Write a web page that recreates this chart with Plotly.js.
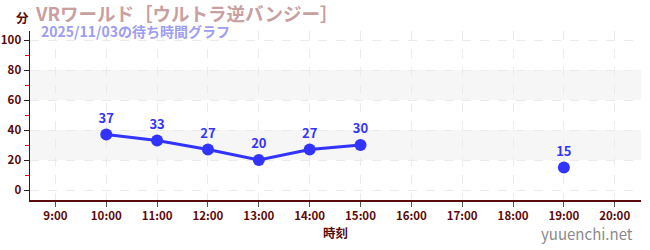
<!DOCTYPE html>
<html><head><meta charset="utf-8">
<script src="https://cdn.plot.ly/plotly-3.0.1.min.js"></script>
<style>html,body{margin:0;padding:0;background:#fff}#c{width:650px;height:250px}</style>
</head><body><div id="c"></div>
<script>
const times = ["2025-11-03 10:00","2025-11-03 11:00","2025-11-03 12:00","2025-11-03 13:00","2025-11-03 14:00","2025-11-03 15:00","2025-11-03 16:00","2025-11-03 17:00","2025-11-03 18:00","2025-11-03 19:00"];
const waits = [37,33,27,20,27,30,null,null,null,15];
const labels = ["37","33","27","20","27","30","","","","15"];
const titleText = "VRワールド［ウルトラ逆バンジー］";
const subtitleText = "2025/11/03の待ち時間グラフ";
const yUnit = "分";
const xTitle = "時刻";
const watermark = "yuuenchi.net";
const bands = [[20,40],[60,80]];

const F = '"Noto Sans CJK JP", "Noto Sans", sans-serif';
const axisCol = '#5a0a0a';
const blue = '#3333ff';

const trace = {
  x: times, y: waits, text: labels,
  type: 'scatter', mode: 'lines+markers+text',
  textposition: 'top center',
  textfont: {family: F, size: 13, color: blue, weight: 'bold'},
  line: {color: blue, width: 3},
  marker: {color: blue, size: 12},
  connectgaps: false, cliponaxis: false,
  hoverinfo: 'none'
};

const shapes = bands.map(b => ({type:'rect', xref:'paper', yref:'y', x0:0, x1:1, y0:b[0], y1:b[1], fillcolor:'#f6f6f6', line:{width:0}, layer:'below'}));

const layout = {
  width: 650, height: 250,
  margin: {l: 30, r: 9, t: 31, b: 50},
  paper_bgcolor: '#fff', plot_bgcolor: '#fff',
  showlegend: false,
  font: {family: F, color: axisCol},
  shapes: shapes,
  xaxis: {
    type: 'date',
    range: ["2025-11-03 08:30", "2025-11-03 20:31"],
    dtick: 3600000, tick0: "2025-11-03 09:00",
    tickformat: '%-H:%M',
    ticks: 'outside', ticklen: 5, tickcolor: '#555',
    tickfont: {family: F, size: 11.5, color: axisCol, weight: 'bold'},
    showline: true, linecolor: axisCol, linewidth: 1.5,
    showgrid: true, gridcolor: '#ebebeb', griddash: 'dash', gridwidth: 1,
    zeroline: false, fixedrange: true,
    title: {text: xTitle, font: {family: F, size: 12.5, color: axisCol, weight: 'bold'}, standoff: 6}
  },
  yaxis: {
    range: [-6.67, 106],
    tickvals: [0,20,40,60,80,100],
    ticks: 'outside', ticklen: 5, tickcolor: '#222',
    tickfont: {family: F, size: 11.5, color: axisCol, weight: 'bold'},
    minor: {tickvals: [10,30,50,70,90], ticks: 'outside', ticklen: 4, tickcolor: '#e00000', showgrid: false},
    showline: true, linecolor: axisCol, linewidth: 1.5,
    showgrid: true, gridcolor: '#ebebeb', griddash: 'dash', gridwidth: 1,
    zeroline: false, fixedrange: true
  },
  annotations: [
    {text: yUnit, xref:'paper', yref:'paper', x: 0, xshift: -16, y: 1, yshift: 14, xanchor:'left', yanchor:'middle', showarrow:false,
     font:{family:F, size:12.5, color:axisCol, weight:'bold'}},
    {text: titleText, xref:'paper', yref:'paper', x: 0, xshift: 3, y: 1, yshift: 18, xanchor:'left', yanchor:'middle', showarrow:false,
     font:{family:F, size:18.5, color:'#c9a0a0', weight:'bold'}},
    {text: subtitleText, xref:'paper', yref:'paper', x: 0, xshift: 9, y: 1, yshift: 0, xanchor:'left', yanchor:'middle', showarrow:false,
     font:{family:F, size:14, color:'#9d9df2', weight:'bold'}},
    {text: watermark, xref:'paper', yref:'paper', x: 1, xshift: -6, y: 0, yshift: -33, xanchor:'right', yanchor:'middle', showarrow:false,
     font:{family:F, size:15, color:'#8a8a8a'}}
  ]
};

Plotly.newPlot('c', [trace], layout, {displayModeBar: false, staticPlot: true});
</script>
</body></html>
